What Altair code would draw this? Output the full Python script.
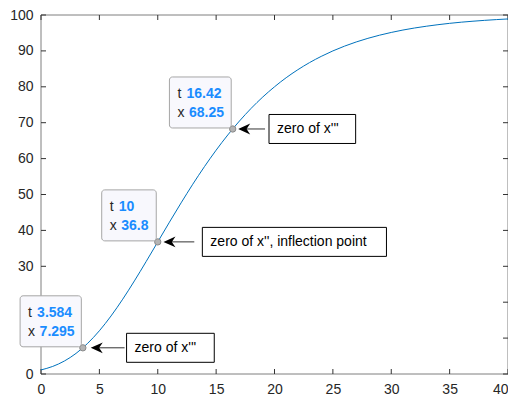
import altair as alt
import pandas as pd

# ---------------- data ----------------
t_vals = list(range(0, 41))
x_vals = [1.13, 2.11, 3.61, 5.74, 8.55, 12.04, 16.17, 20.84, 25.93, 31.29,
          36.79, 42.29, 47.67, 52.86, 57.76, 62.35, 66.59, 70.47, 74.00, 77.17,
          80.00, 82.53, 84.76, 86.74, 88.47, 90.00, 91.33, 92.49, 93.50, 94.38,
          95.14, 95.81, 96.38, 96.87, 97.30, 97.68, 98.00, 98.27, 98.51, 98.72,
          98.90]

x_ticks = [0, 5, 10, 15, 20, 25, 30, 35, 40]
y_ticks = [0, 10, 20, 30, 40, 50, 60, 70, 80, 90, 100]
# labels 10 and 20 are hidden behind the first data tip in the picture
y_hidden_labels = [10, 20]

tip_t = [3.584, 10, 16.42]
tip_x = [7.295, 36.8, 68.25]
tip_t_label = ["3.584", "10", "16.42"]
tip_x_label = ["7.295", "36.8", "68.25"]
tip_box_left_t = [-1.79, 5.20, 11.00]

ann_text = ["zero of x'''", "zero of x'', inflection point", "zero of x'''"]
ann_tail_t = [7.16, 13.13, 19.19]
ann_head_t = [4.26, 10.49, 16.89]
ann_box_left_t = [7.33, 13.82, 19.53]
ann_box_right_t = [14.84, 29.59, 26.95]

# ---------------- styles ----------------
W, H = 467, 359
FONT = "Liberation Sans"
TXT = "#262626"
LINE_BLUE = "#0072BD"
VAL_BLUE = "#1a8cff"

curve = pd.DataFrame({"t": t_vals, "x": x_vals})
tips = pd.DataFrame({"t": tip_t, "x": tip_x, "tl": tip_t_label,
                     "xl": tip_x_label, "left": tip_box_left_t,
                     "lt": ["t"] * 3, "lx": ["x"] * 3})
anns = pd.DataFrame({"text": ann_text, "tail": ann_tail_t, "head": ann_head_t,
                     "bl": ann_box_left_t, "br": ann_box_right_t, "y": tip_x})
xt = pd.DataFrame({"v": x_ticks})
yt = pd.DataFrame({"v": y_ticks})
one = pd.DataFrame({"a": [0]})

xs = alt.Scale(domain=[0, 40], nice=False, zero=False)
ys = alt.Scale(domain=[0, 100], nice=False, zero=False)

hidden_test = " || ".join(f"datum.value == {v}" for v in y_hidden_labels)

x_axis = alt.Axis(values=x_ticks, ticks=False, tickSize=0, domain=False,
                  grid=False, labelFontSize=14, labelFont=FONT, title=None,
                  labelColor=TXT, labelPadding=8, labelFlush=False,
                  labelAlign={"condition": {"test": "datum.value == 40",
                                            "value": "right"},
                              "value": "center"})
y_axis = alt.Axis(values=y_ticks, ticks=False, tickSize=0, domain=False,
                  grid=False, labelFontSize=14, labelFont=FONT, title=None,
                  labelColor=TXT, labelPadding=8, labelFlush=False,
                  labelExpr=f"({hidden_test}) ? '' : datum.label")


def X(f):
    return alt.X(f, type="quantitative", scale=xs, axis=x_axis, title=None)


def Y(f):
    return alt.Y(f, type="quantitative", scale=ys, axis=y_axis, title=None)


frame_col = "#7f7f7f"
frame = [
    alt.Chart(one).mark_rule(color=frame_col, strokeWidth=1).encode(
        x=alt.value(0), y=alt.value(0), y2=alt.value(H)),
    alt.Chart(one).mark_rule(color=frame_col, strokeWidth=1).encode(
        x=alt.value(W), y=alt.value(0), y2=alt.value(H)),
    alt.Chart(one).mark_rule(color=frame_col, strokeWidth=1).encode(
        y=alt.value(0), x=alt.value(0), x2=alt.value(W)),
    alt.Chart(one).mark_rule(color=frame_col, strokeWidth=1).encode(
        y=alt.value(H), x=alt.value(0), x2=alt.value(W)),
]

tick_col = "#333333"
ticks = [
    alt.Chart(xt).mark_rule(color=tick_col, strokeWidth=1).encode(
        x=X("v"), y=alt.value(H), y2=alt.value(H - 5)),
    alt.Chart(xt).mark_rule(color=tick_col, strokeWidth=1).encode(
        x=X("v"), y=alt.value(0), y2=alt.value(5)),
    alt.Chart(yt).mark_rule(color=tick_col, strokeWidth=1).encode(
        y=Y("v"), x=alt.value(0), x2=alt.value(5)),
    alt.Chart(yt).mark_rule(color=tick_col, strokeWidth=1).encode(
        y=Y("v"), x=alt.value(W), x2=alt.value(W - 5)),
]

line = alt.Chart(curve).mark_line(color=LINE_BLUE, strokeWidth=1,
                                  interpolate="monotone").encode(
    x=X("t"), y=Y("x"))

markers = alt.Chart(tips).mark_point(shape="circle", filled=True, size=40,
                                     fill="#b4b4b4", stroke="#8a8a8a",
                                     strokeWidth=1, opacity=1).encode(
    x=X("t"), y=Y("x"))

tip_box = alt.Chart(tips).mark_rect(fill="#f8f8fd", stroke="#a6a6a6",
                                    strokeWidth=1, cornerRadius=3,
                                    x2Offset=-1.5, yOffset=-52,
                                    y2Offset=-1).encode(
    x=X("left"), x2="t", y=Y("x"), y2="x")

tip_lt = alt.Chart(tips).mark_text(align="left", baseline="middle", dx=8,
                                   dy=-35, font=FONT, fontSize=14,
                                   color=TXT).encode(
    x=X("left"), y=Y("x"), text="lt:N")
tip_lx = alt.Chart(tips).mark_text(align="left", baseline="middle", dx=8,
                                   dy=-16, font=FONT, fontSize=14,
                                   color=TXT).encode(
    x=X("left"), y=Y("x"), text="lx:N")
tip_vt = alt.Chart(tips).mark_text(align="left", baseline="middle", dx=17,
                                   dy=-35, font=FONT, fontSize=14,
                                   fontWeight="bold", color=VAL_BLUE).encode(
    x=X("left"), y=Y("x"), text="tl:N")
tip_vx = alt.Chart(tips).mark_text(align="left", baseline="middle", dx=19.5,
                                   dy=-16, font=FONT, fontSize=14,
                                   fontWeight="bold", color=VAL_BLUE).encode(
    x=X("left"), y=Y("x"), text="xl:N")

shaft = alt.Chart(anns).mark_rule(color="#333333", strokeWidth=1,
                                  x2Offset=6).encode(
    x=X("tail"), x2="head", y=Y("y"))
head = alt.Chart(anns).mark_point(
    shape="M0 0 L2 -0.9 L1.4 0 L2 0.9 Z", size=144, filled=True,
    fill="#000000", strokeWidth=0, opacity=1).encode(
    x=X("head"), y=Y("y"))

ann_box = alt.Chart(anns).mark_rect(fill="#ffffff", stroke="#000000",
                                    strokeWidth=1, yOffset=-14.5,
                                    y2Offset=14.5).encode(
    x=X("bl"), x2="br", y=Y("y"), y2="y")
ann_txt = alt.Chart(anns).mark_text(align="left", baseline="middle", dx=8,
                                    font=FONT, fontSize=14, color="#000000").encode(
    x=X("bl"), y=Y("y"), text="text:N")

chart = alt.layer(
    *frame, *ticks, line, markers, tip_box, tip_lt, tip_lx, tip_vt, tip_vx,
    shaft, head, ann_box, ann_txt
).properties(
    width=W, height=H,
    autosize=alt.AutoSizeParams(type="none"),
    padding={"left": 33, "top": 7, "right": 0, "bottom": 22},
).configure_view(stroke=None)

chart.save("out.html", embed_options={"renderer": "svg", "actions": False})
